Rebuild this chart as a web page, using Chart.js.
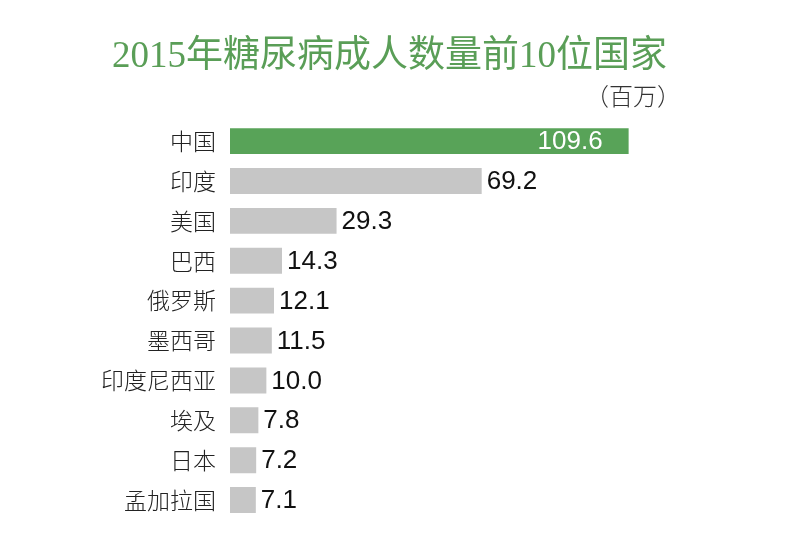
<!DOCTYPE html>
<html>
<head>
<meta charset="utf-8">
<script src="https://cdn.jsdelivr.net/npm/chart.js@4"></script>
<style>
  html, body { margin: 0; padding: 0; background: #fff; }
  #wrap { width: 791px; height: 556px; }
</style>
</head>
<body>
<div id="wrap"><canvas id="diabetesChart" width="791" height="556"></canvas></div>
<script>
const countries = ['中国', '印度', '美国', '巴西', '俄罗斯', '墨西哥', '印度尼西亚', '埃及', '日本', '孟加拉国'];
const adults = [109.6, 69.2, 29.3, 14.3, 12.1, 11.5, 10.0, 7.8, 7.2, 7.1];
const barColors = ['#58a358', '#c6c6c6', '#c6c6c6', '#c6c6c6', '#c6c6c6', '#c6c6c6', '#c6c6c6', '#c6c6c6', '#c6c6c6', '#c6c6c6'];

// value labels: white inside the top bar, black after the others
const valueLabels = {
    id: 'valueLabels',
    afterDatasetsDraw(chart) {
        const ctx = chart.ctx;
        const meta = chart.getDatasetMeta(0);
        ctx.save();
        ctx.font = '26px "Liberation Sans", Arial, sans-serif';
        ctx.textBaseline = 'middle';
        meta.data.forEach((bar, i) => {
            const txt = adults[i].toFixed(1);
            if (i === 0) {
                ctx.fillStyle = '#ffffff';
                ctx.textAlign = 'right';
                ctx.fillText(txt, bar.x - 26, bar.y + 1);
            } else {
                ctx.fillStyle = '#111111';
                ctx.textAlign = 'left';
                ctx.fillText(txt, bar.x + 5, bar.y + 1);
            }
        });
        ctx.restore();
    }
};

const ctx = document.getElementById('diabetesChart').getContext('2d');
new Chart(ctx, {
    type: 'bar',
    data: {
        labels: countries,
        datasets: [{
            data: adults,
            backgroundColor: barColors,
            categoryPercentage: 0.65,
            barPercentage: 1.0
        }]
    },
    options: {
        indexAxis: 'y',
        responsive: false,
        animation: false,
        layout: { padding: { left: 98, right: 110, top: 35, bottom: 36 } },
        scales: {
            x: { display: false, min: 0, max: 124 },
            y: {
                grid: { display: false },
                border: { display: false },
                afterFit(axis) { axis.width = 132; },
                ticks: {
                    color: '#222222',
                    padding: 6,
                    font: { size: 23, family: '"Noto Sans CJK SC", sans-serif', weight: '300' }
                }
            }
        },
        plugins: {
            legend: { display: false },
            tooltip: { enabled: false },
            title: {
                display: true,
                text: '2015年糖尿病成人数量前10位国家',
                color: '#5a9e57',
                font: { size: 37, family: '"Liberation Serif", "Noto Sans CJK SC", serif', weight: 'normal' },
                padding: { top: 0, bottom: 2 }
            },
            subtitle: {
                display: true,
                text: '（百万）',
                align: 'end',
                color: '#333333',
                font: { size: 24, family: '"Noto Sans CJK SC", sans-serif', weight: '300' },
                padding: { top: 0, bottom: 11 }
            }
        }
    },
    plugins: [valueLabels]
});
</script>
</body>
</html>
